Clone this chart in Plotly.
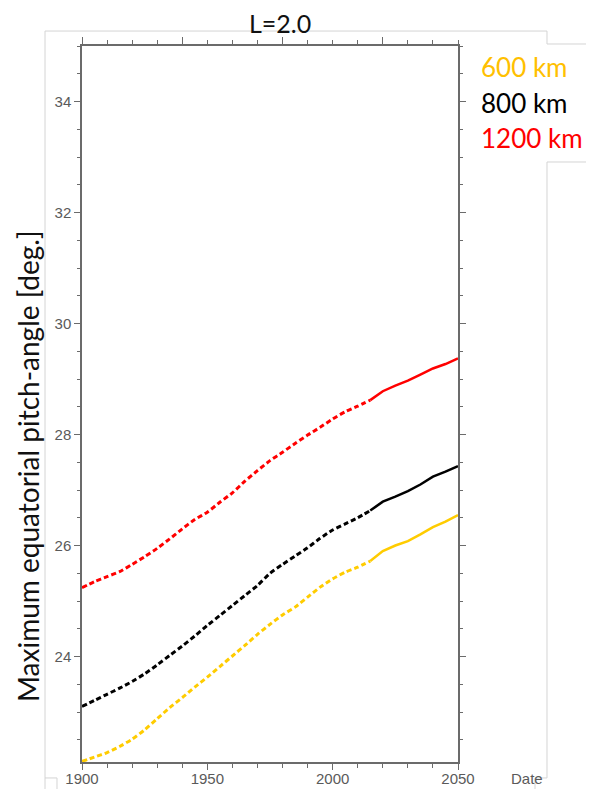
import plotly.graph_objects as go

# ---- data ----
years_hist = [1900, 1905, 1910, 1915, 1920, 1925, 1930, 1935, 1940, 1945, 1950, 1955,
              1960, 1965, 1970, 1975, 1980, 1985, 1990, 1995, 2000, 2005, 2010, 2015]
years_fut = [2015, 2020, 2025, 2030, 2035, 2040, 2045, 2050]

km600_hist = [22.11, 22.19, 22.27, 22.38, 22.51, 22.68, 22.88, 23.08, 23.26, 23.45, 23.63, 23.82,
              24.01, 24.20, 24.40, 24.58, 24.75, 24.89, 25.07, 25.25, 25.40, 25.52, 25.61, 25.72]
km600_fut = [25.72, 25.90, 26.00, 26.08, 26.20, 26.33, 26.43, 26.55]

km800_hist = [23.10, 23.21, 23.32, 23.43, 23.55, 23.69, 23.85, 24.02, 24.19, 24.37, 24.56, 24.74,
              24.92, 25.10, 25.28, 25.50, 25.66, 25.81, 25.96, 26.13, 26.28, 26.39, 26.50, 26.63]
km800_fut = [26.63, 26.79, 26.88, 26.98, 27.10, 27.24, 27.33, 27.43]

km1200_hist = [25.24, 25.35, 25.44, 25.53, 25.66, 25.80, 25.95, 26.12, 26.30, 26.47, 26.60, 26.78,
               26.95, 27.16, 27.35, 27.53, 27.68, 27.84, 27.99, 28.13, 28.28, 28.41, 28.51, 28.62]
km1200_fut = [28.62, 28.78, 28.88, 28.97, 29.08, 29.19, 29.27, 29.37]

series_names = ["600 km", "800 km", "1200 km"]
x_tick_vals = [1900, 1950, 2000, 2050]
x_tick_text = ["1900", "1950", "2000", "2050"]
y_tick_vals = [24, 26, 28, 30, 32, 34]
y_tick_text = ["24", "26", "28", "30", "32", "34"]

# ---- styles ----
line_colors = ["#FFCC00", "#000000", "#FF0000"]
text_colors = ["#FFC000", "#000000", "#FF0000"]
axis_col = "#6b6b6b"
frame_col = "#d4d4d4"

# page has an 8px body margin -> figure is 8px smaller and page coords shifted by 8
OFF = 8
W, H = 594 - OFF, 789 - OFF
pl, pr, pt, pb = 82 - OFF, 458 - OFF, 46 - OFF, 762 - OFF

fig = go.Figure()
hist = [km600_hist, km800_hist, km1200_hist]
fut = [km600_fut, km800_fut, km1200_fut]
for name, h, f, c in zip(series_names, hist, fut, line_colors):
    fig.add_trace(go.Scatter(x=years_hist, y=h, mode="lines", name=name,
                             line=dict(color=c, width=3, dash="5px,3px", shape="spline", smoothing=0.6),
                             showlegend=False))
    fig.add_trace(go.Scatter(x=years_fut, y=f, mode="lines", name=name,
                             line=dict(color=c, width=2.5), showlegend=False))

# invisible trace to hold the top axis
fig.add_trace(go.Scatter(x=[1900, 2050], y=[30, 30], xaxis="x2", mode="lines",
                         line=dict(width=0), hoverinfo="skip", showlegend=False))

tickfont = dict(family="Liberation Sans, Arial, sans-serif", size=15, color="#5a5a5a")

fig.update_layout(
    width=W, height=H, autosize=False,
    margin=dict(l=pl, r=W - pr, t=pt, b=H - pb, autoexpand=False),
    paper_bgcolor="white", plot_bgcolor="white",
    xaxis=dict(range=[1900, 2050], tickvals=x_tick_vals, ticktext=x_tick_text, automargin=False,
               ticks="outside", ticklen=6, tickwidth=1.2, tickcolor=axis_col,
               showline=True, linecolor=axis_col, linewidth=1.5, showgrid=False, zeroline=False,
               tickfont=tickfont, ticklabelstandoff=-4,
               minor=dict(dtick=10, tick0=1900, ticks="outside", ticklen=4, tickcolor=axis_col,
                          tickwidth=1, showgrid=False)),
    xaxis2=dict(range=[1900, 2050], overlaying="x", side="top", tick0=1900, dtick=40, automargin=False,
                ticks="outside", ticklen=7, tickwidth=1.2, tickcolor=axis_col, showticklabels=False,
                showline=True, linecolor=axis_col, linewidth=1.5, showgrid=False, zeroline=False,
                minor=dict(dtick=10, tick0=1900, ticks="outside", ticklen=4, tickcolor=axis_col,
                           tickwidth=1, showgrid=False)),
    yaxis=dict(range=[22.1, 35.0], tickvals=y_tick_vals, ticktext=y_tick_text, automargin=False,
               ticks="outside", ticklen=6, tickwidth=1.2, tickcolor=axis_col,
               showline=True, linecolor=axis_col, linewidth=1.5, mirror="ticks",
               showgrid=False, zeroline=False, tickfont=tickfont,
               minor=dict(dtick=0.5, tick0=22, ticks="outside", ticklen=3, tickcolor=axis_col,
                          tickwidth=1, showgrid=False)),
)

def px(x):
    return (x - OFF - pl) / (pr - pl)
def py(y):
    return (pb - (y - OFF)) / (pb - pt)

# title
fig.add_annotation(text="L=2.0", xref="paper", yref="paper", x=px(280), y=py(23),
                   xanchor="center", yanchor="middle", showarrow=False,
                   font=dict(family="Lato, sans-serif", size=25, color="#111111"))
# y-axis title
fig.add_annotation(text="Maximum equatorial pitch-angle [deg.]", xref="paper", yref="paper",
                   x=px(OFF + 1), y=py(466), textangle=-90, xanchor="left", yanchor="middle",
                   showarrow=False, font=dict(family="Lato, sans-serif", size=28, color="#111111"))
# "Date" label
fig.add_annotation(text="Date", xref="paper", yref="paper", x=px(527), y=py(778),
                   xanchor="center", yanchor="middle", showarrow=False, font=tickfont)
# series labels
for i, (name, c) in enumerate(zip(series_names, text_colors)):
    fig.add_annotation(text=name, xref="paper", yref="paper", x=px(479), y=py(67 + 35.5 * i),
                       xanchor="left", yanchor="middle", showarrow=False,
                       font=dict(family="Lato, sans-serif", size=26, color=c))

# frame lines of the pasted picture (page pixel positions)
frame = [
    [(45, 789), (45, 778), (57, 778), (57, 789)],
    [(45, 778), (45, 31), (547, 31), (547, 44), (594, 44)],
    [(594, 162), (547, 162), (547, 778), (535, 778), (535, 789)],
]
for pts in frame:
    path = "M " + " L ".join(f"{px(x):.4f},{py(y):.4f}" for x, y in pts)
    fig.add_shape(type="path", path=path, xref="paper", yref="paper",
                  line=dict(color=frame_col, width=1), layer="below")

fig.write_html("out.html")
